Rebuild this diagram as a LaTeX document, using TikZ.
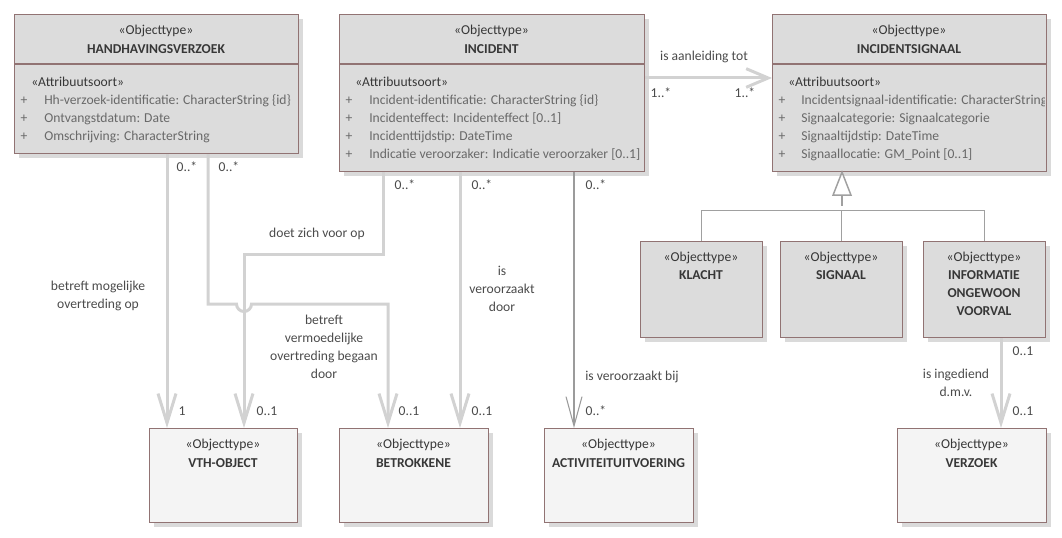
\documentclass[tikz,border=0pt]{standalone}
\usepackage{fontspec}
\setmainfont{Carlito}
\usetikzlibrary{arrows.meta,calc,shadows}

\definecolor{boxline}{RGB}{145,115,115}
\definecolor{hdrfill}{RGB}{220,220,220}
\definecolor{lowfill}{RGB}{244,244,244}
\definecolor{shade}{RGB}{218,218,218}
\definecolor{conn}{RGB}{210,210,210}
\definecolor{thinconn}{RGB}{155,155,155}
\definecolor{genline}{RGB}{160,160,160}
\definecolor{txtdark}{RGB}{55,55,55}
\definecolor{txtattr}{RGB}{105,105,105}
\definecolor{txtlbl}{RGB}{75,75,75}

\tikzset{
  classbox/.style 2 args={rectangle, draw=boxline, line width=0.9pt, anchor=north west,
    inner sep=0pt, minimum width=#1*0.75pt, minimum height=#2*0.75pt,
    drop shadow={shadow xshift=3pt, shadow yshift=-3pt, fill=shade, opacity=1}},
  hdr/.style={fill=hdrfill},
  low/.style={fill=lowfill},
  stereo/.style={text=txtdark, font=\fontsize{10.2}{12}\selectfont, inner sep=0pt,
    text height=7.2pt, text depth=2pt},
  cname/.style={text=txtdark, font=\fontsize{10.2}{13.5}\selectfont\bfseries, inner sep=0pt, align=center},
  attrplus/.style={text=txtattr, font=\fontsize{10.2}{12}\selectfont, inner sep=0pt,
    text height=7.2pt, text depth=2pt},
  attrtxt/.style={text=txtattr, font=\fontsize{10.2}{12}\selectfont, inner sep=0pt, anchor=west,
    text height=7.2pt, text depth=2pt},
  lbl/.style={text=txtlbl, font=\fontsize{10.2}{13.5}\selectfont, inner sep=0pt, align=center},
  mult/.style={text=txtlbl, font=\fontsize{10.2}{12}\selectfont, inner sep=0pt,
    text height=7.2pt, text depth=2pt},
  assoc/.style={draw=conn, line width=2.25pt, -{Straight Barb[length=22pt,width=13.5pt]}},
  thinassoc/.style={draw=thinconn, line width=0.8pt, -{Straight Barb[length=22pt,width=12pt]}},
  gen/.style={draw=genline, line width=1pt},
  sepline/.style={draw=boxline, line width=0.9pt},
}

% one attribute row: name, x of "+", x of text, y, text
\newcommand\umlattr[5]{%
  \node[attrplus] (#1-p) at (#2,#4) {+};
  \node[attrtxt] (#1) at (#3,#4) {#5};}

\begin{document}
\begin{tikzpicture}[x=0.75pt,y=-0.75pt]
\useasboundingbox (0,0) rectangle (1062,538);

% ---------- class boxes ----------
\node[classbox={284}{139}, hdr] (hv) at (14,14) {};
\node[classbox={305}{157}, hdr] (inc) at (339,14) {};
\node[classbox={274}{157}, hdr] (isg) at (772,14) {};
\node[classbox={122}{96}, hdr] (klacht) at (640,241) {};
\node[classbox={122}{96}, hdr] (signaal) at (780,241) {};
\node[classbox={122}{96}, hdr] (info) at (923,241) {};
\node[classbox={148}{94}, low] (vth) at (149,428) {};
\node[classbox={149}{94}, low] (betr) at (339,428) {};
\node[classbox={149}{94}, low] (act) at (544,428) {};
\node[classbox={149}{94}, low] (verz) at (897,428) {};

% header compartments
\draw[sepline] ($(hv.north west)+(0,50)$) -- ($(hv.north east)+(0,50)$);
\draw[sepline] ($(inc.north west)+(0,50)$) -- ($(inc.north east)+(0,50)$);
\draw[sepline] ($(isg.north west)+(0,50)$) -- ($(isg.north east)+(0,50)$);

% ---------- HANDHAVINGSVERZOEK ----------
\node[stereo] (hv-st) at (156,31) {«Objecttype»};
\node[cname] (hv-nm) at (156,49) {HANDHAVINGSVERZOEK};
\node[stereo, anchor=west] (hv-as) at (31,83) {«Attribuutsoort»};
\umlattr{hv-a1}{24}{44}{101}{Hh-verzoek-identificatie: CharacterString \{id\}}
\umlattr{hv-a2}{24}{44}{119}{Ontvangstdatum: Date}
\umlattr{hv-a3}{24}{44}{137}{Omschrijving: CharacterString}

% ---------- INCIDENT ----------
\node[stereo] (inc-st) at (491.5,31) {«Objecttype»};
\node[cname] (inc-nm) at (491.5,49) {INCIDENT};
\node[stereo, anchor=west] (inc-as) at (355,83) {«Attribuutsoort»};
\umlattr{inc-a1}{349}{369}{101}{Incident-identificatie: CharacterString \{id\}}
\umlattr{inc-a2}{349}{369}{119}{Incidenteffect: Incidenteffect [0..1]}
\umlattr{inc-a3}{349}{369}{137}{Incidenttijdstip: DateTime}
\umlattr{inc-a4}{349}{369}{155}{Indicatie veroorzaker: Indicatie veroorzaker [0..1]}

% ---------- INCIDENTSIGNAAL ----------
\node[stereo] (isg-st) at (909,31) {«Objecttype»};
\node[cname] (isg-nm) at (909,49) {INCIDENTSIGNAAL};
\node[stereo, anchor=west] (isg-as) at (788,83) {«Attribuutsoort»};
\begin{scope}
  \clip (isg.north west) rectangle ($(isg.south east)+(-3,0)$);
  \umlattr{isg-a1}{782}{801}{101}{Incidentsignaal-identificatie: CharacterString}
\end{scope}
\umlattr{isg-a2}{782}{801}{119}{Signaalcategorie: Signaalcategorie}
\umlattr{isg-a3}{782}{801}{137}{Signaaltijdstip: DateTime}
\umlattr{isg-a4}{782}{801}{155}{Signaallocatie: GM\_Point [0..1]}

% ---------- subtypes ----------
\node[stereo] (klacht-st) at (701,258) {«Objecttype»};
\node[cname] (klacht-nm) at (701,275) {KLACHT};
\node[stereo] (signaal-st) at (841,258) {«Objecttype»};
\node[cname] (signaal-nm) at (841,275) {SIGNAAL};
\node[stereo] (info-st) at (984,258) {«Objecttype»};
\node[cname] (info-nm) at (984,293) {INFORMATIE\\ONGEWOON\\VOORVAL};

% ---------- lower boxes ----------
\node[stereo] (vth-st) at (223,445) {«Objecttype»};
\node[cname] (vth-nm) at (223,463) {VTH-OBJECT};
\node[stereo] (betr-st) at (413.5,445) {«Objecttype»};
\node[cname] (betr-nm) at (413.5,463) {BETROKKENE};
\node[stereo] (act-st) at (618.5,445) {«Objecttype»};
\node[cname] (act-nm) at (618.5,463) {ACTIVITEITUITVOERING};
\node[stereo] (verz-st) at (971.5,445) {«Objecttype»};
\node[cname] (verz-nm) at (971.5,463) {VERZOEK};

% ---------- associations ----------
\draw[assoc] ($(hv.south west)+(153,0)$) -- ($(vth.north west)+(18,0)$);
\draw[assoc] ($(hv.south west)+(194,0)$) -- (208,304) -- (236.5,304)
  arc[start angle=180, end angle=0, radius=7.5] -- (388,304) -- ($(betr.north west)+(49,0)$);
\draw[assoc] ($(inc.south west)+(44,0)$) |- (244,254) -- ($(vth.north west)+(95,0)$);
\draw[assoc] ($(inc.south west)+(121,0)$) -- ($(betr.north west)+(121,0)$);
\draw[thinassoc] ($(inc.south west)+(235,0)$) -- ($(act.north west)+(30,0)$);
\draw[assoc, -{Straight Barb[length=16.5pt,width=14pt]}]
  ($(inc.north east)+(0,64)$) -- ($(isg.north west)+(0,64)$);
\draw[assoc] ($(info.south west)+(78,0)$) -- ($(verz.north west)+(104,0)$);

% ---------- generalization ----------
\coordinate (tip) at ($(isg.south west)+(70,0)$);
\coordinate (hub) at ($(tip)+(0,38)$);
\draw[gen] (klacht.north) |- (hub) -| (info.north);
\draw[gen] (signaal.north) -- (signaal.north |- hub);
\draw[gen, line width=1.6pt] ($(tip)+(0,23)$) -- ($(tip)+(0,34)$);
\draw[gen, line width=1.1pt, fill=white] (tip) -- ++(-9,23) -- ++(18,0) -- cycle;

% ---------- association labels ----------
\node[lbl] (l-aanl) at (704,57) {is aanleiding tot};
\node[mult] (m-aanl1) at (661,94) {1..*};
\node[mult] (m-aanl2) at (745,94) {1..*};
\node[mult] (m-hv1) at (187,168) {0..*};
\node[mult] (m-hv2) at (229,168) {0..*};
\node[mult] (m-inc1) at (405,186) {0..*};
\node[mult] (m-inc2) at (482,186) {0..*};
\node[mult] (m-inc3) at (596,186) {0..*};
\node[lbl] (l-mog) at (98,296) {betreft mogelijke\\overtreding op};
\node[lbl] (l-doet) at (317,234) {doet zich voor op};
\node[lbl] (l-verm) at (324,347) {betreft\\vermoedelijke\\overtreding begaan\\door};
\node[lbl] (l-door) at (502,289) {is\\veroorzaakt\\door};
\node[lbl] (l-bij) at (632,377) {is veroorzaakt bij};
\node[mult] (m-info) at (1023,352) {0..1};
\node[lbl] (l-ingd) at (956,383) {is ingediend\\d.m.v.};
\node[mult] (m-vth1) at (182,412) {1};
\node[mult] (m-vth2) at (267,412) {0..1};
\node[mult] (m-betr1) at (409,412) {0..1};
\node[mult] (m-betr2) at (482,412) {0..1};
\node[mult] (m-act) at (596,412) {0..*};
\node[mult] (m-verz) at (1023,412) {0..1};

\end{tikzpicture}
\end{document}
